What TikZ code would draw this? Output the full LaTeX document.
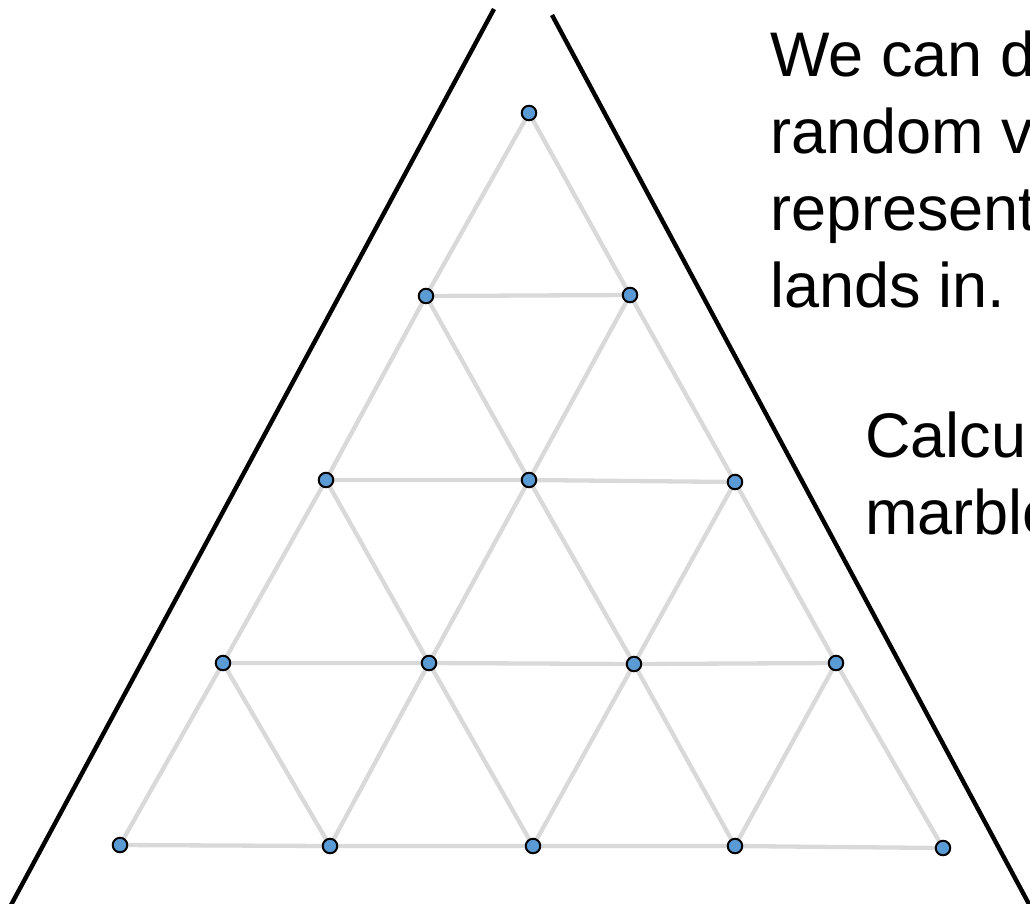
\documentclass[tikz,border=0pt]{standalone}
\usepackage{fontspec}
\setmainfont{Liberation Sans}
\usetikzlibrary{backgrounds}
\definecolor{dotblue}{HTML}{5B9BD5}
\definecolor{gridgray}{HTML}{D9D9D9}
\tikzset{
  dot/.style={circle,draw=black,line width=2pt,fill=dotblue,minimum size=14.5pt,inner sep=0pt},
  gridline/.style={draw=gridgray,line width=4.3pt},
  bigline/.style={draw=black,line width=4.4pt},
  txt/.style={anchor=base west,inner sep=0pt,font=\fontsize{63}{77}\selectfont}
}
\begin{document}
\begin{tikzpicture}[x=1pt,y=-1pt]
\useasboundingbox (0,0) rectangle (1030,903);
\clip (0,0) rectangle (1030,903);
% dots
\node[dot] (a0) at (529,113) {};
\node[dot] (b0) at (426,296) {};
\node[dot] (b1) at (630,295) {};
\node[dot] (c0) at (326,480) {};
\node[dot] (c1) at (529,480) {};
\node[dot] (c2) at (735,482) {};
\node[dot] (d0) at (223,663) {};
\node[dot] (d1) at (429,663) {};
\node[dot] (d2) at (634,664) {};
\node[dot] (d3) at (836,663) {};
\node[dot] (e0) at (120,845) {};
\node[dot] (e1) at (330,846) {};
\node[dot] (e2) at (533,846) {};
\node[dot] (e3) at (735,846) {};
\node[dot] (e4) at (943,848) {};
\begin{pgfonlayer}{background}
\draw[gridline] (a0.center) -- (b0.center) (a0.center) -- (b1.center) (b0.center) -- (b1.center);
\draw[gridline] (b0.center) -- (c0.center) (b0.center) -- (c1.center) (b1.center) -- (c1.center) (b1.center) -- (c2.center)
  (c0.center) -- (c1.center) -- (c2.center);
\draw[gridline] (c0.center) -- (d0.center) (c0.center) -- (d1.center) (c1.center) -- (d1.center) (c1.center) -- (d2.center)
  (c2.center) -- (d2.center) (c2.center) -- (d3.center) (d0.center) -- (d1.center) -- (d2.center) -- (d3.center);
\draw[gridline] (d0.center) -- (e0.center) (d0.center) -- (e1.center) (d1.center) -- (e1.center) (d1.center) -- (e2.center)
  (d2.center) -- (e2.center) (d2.center) -- (e3.center) (d3.center) -- (e3.center) (d3.center) -- (e4.center)
  (e0.center) -- (e1.center) -- (e2.center) -- (e3.center) -- (e4.center);
\end{pgfonlayer}
% big triangle sides
\coordinate (lt) at (494,9);
\coordinate (lb) at (11,905);
\coordinate (rt) at (552,15);
\coordinate (rb) at (1030,906);
\draw[bigline] (lt) -- (lb);
\draw[bigline] (rt) -- (rb);
% text
\node[txt] (t1) at (770,76) {We can d};
\node[txt] (t2) at (770,153) {random v};
\node[txt] (t3) at (770,230) {represent};
\node[txt] (t4) at (770,307) {lands in.};
\node[txt] (t5) at (865,457) {Calcu};
\node[txt] (t6) at (865,534) {marble};
\end{tikzpicture}
\end{document}
